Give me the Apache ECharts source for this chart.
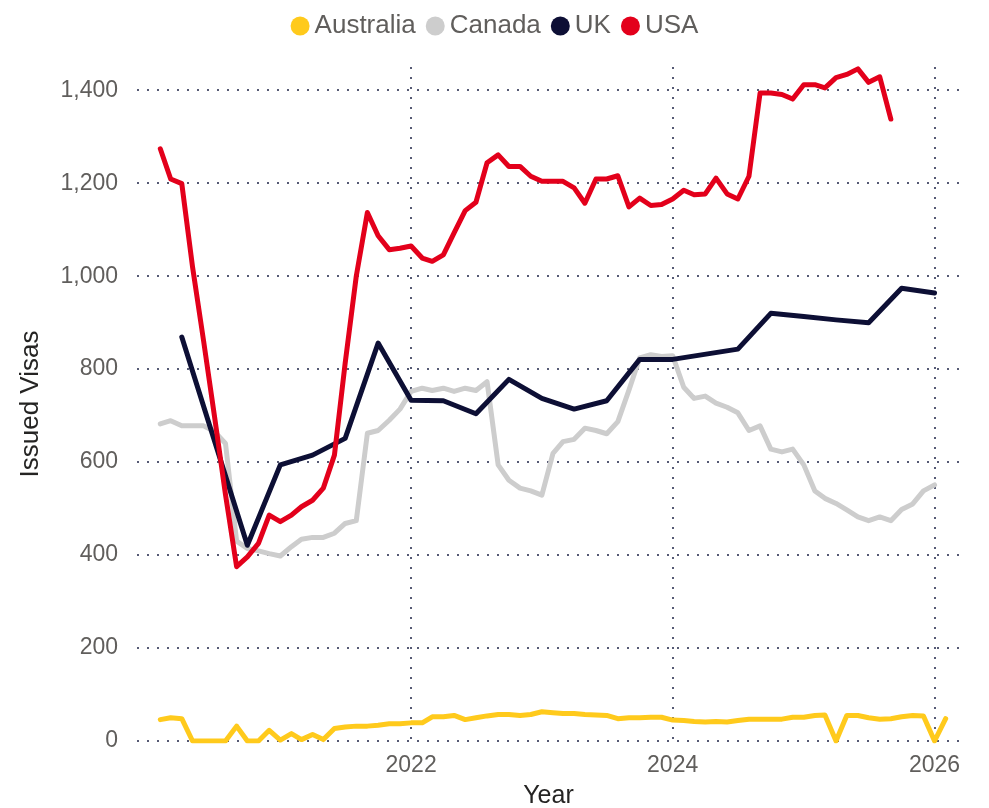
<!DOCTYPE html>
<html>
<head>
<meta charset="utf-8">
<script src="https://cdn.jsdelivr.net/npm/echarts@6/dist/echarts.min.js"></script>
<style>
  html, body { margin: 0; padding: 0; background: #fff; }
  #chart1 { width: 989px; height: 808px; }
</style>
</head>
<body>
<div id="chart1"></div>
<script>
// monthly series: Feb 2020 onwards
var seriesNames = ['Australia', 'Canada', 'UK', 'USA'];
var colors = ['#FFCA1C', '#CDCDCD', '#0D0F35', '#E3001B'];

var australia = [
    46, 50, 48, 0, 0, 0, 0, 32, 0, 0, 23,
    2, 16, 3, 14, 3, 27, 30, 32, 32, 34, 37, 37,
    39, 39, 52, 52, 55, 46, 50, 54, 57, 57, 55, 57,
    63, 61, 59, 59, 57, 56, 55, 48, 50, 50, 51, 51,
    45, 44, 42, 41, 42, 41, 44, 47, 47, 47, 47, 51,
    51, 55, 56, 0, 55, 55, 50, 47, 48, 52, 55, 54,
    0, 48
];
var canada = [
    682, 689, 678, 678, 678, 666, 640, 430, 414, 409, 403,
    398, 418, 434, 438, 438, 447, 468, 474, 662, 668, 690, 714,
    752, 759, 754, 759, 752, 759, 754, 773, 594, 561, 544, 538,
    529, 619, 644, 649, 673, 668, 661, 687, 755, 824, 831, 827,
    829, 761, 737, 742, 727, 718, 706, 668, 678, 628, 622, 628,
    594, 538, 522, 511, 497, 482, 474, 482, 474, 498, 510, 538,
    551
];
var usa = [
    1274, 1209, 1199, 1020, 860, 700, 530, 375, 396, 425, 486,
    472, 486, 504, 518, 544, 615, 813, 1000, 1137, 1087, 1057, 1060,
    1065, 1039, 1032, 1046, 1093, 1141, 1159, 1244, 1261, 1236, 1236, 1215,
    1204, 1204, 1204, 1190, 1157, 1209, 1209, 1216, 1149, 1168, 1152, 1154,
    1166, 1185, 1175, 1177, 1211, 1177, 1166, 1215, 1394, 1394, 1391, 1381,
    1412, 1412, 1405, 1427, 1434, 1446, 1417, 1429, 1338
];
// UK is reported quarterly
var ukDates = [
    '2020-04-01', '2020-10-01', '2021-01-01', '2021-04-01', '2021-07-01', '2021-10-01',
    '2022-01-01', '2022-04-01', '2022-07-01', '2022-10-01',
    '2023-01-01', '2023-04-01', '2023-07-01', '2023-10-01',
    '2024-01-01', '2024-07-01', '2024-10-01',
    '2025-01-01', '2025-04-01', '2025-07-01', '2025-10-01', '2026-01-01'
];
var uk = [
    869, 421, 594, 615, 651, 856,
    733, 732, 704, 778,
    737, 714, 732, 821,
    821, 843, 920,
    913, 906, 900, 974, 964
];
var yTicks = [0, 200, 400, 600, 800, 1000, 1200, 1400];
var xTicks = ['2022-01-01', '2024-01-01', '2026-01-01'];

function monthList(year, month, n) {
    var out = [];
    for (var i = 0; i < n; i++) {
        var y = year + Math.floor((month - 1 + i) / 12);
        var m = (month - 1 + i) % 12 + 1;
        out.push(y + '-' + (m < 10 ? '0' + m : m) + '-01');
    }
    return out;
}
function pair(dates, vals) {
    return vals.map(function (v, i) { return [dates[i], v]; });
}

var monthly = monthList(2020, 2, 73);
var seriesData = [
    pair(monthly, australia),
    pair(monthly, canada),
    pair(ukDates, uk),
    pair(monthly, usa)
];

var font = 'Liberation Sans, Arial, sans-serif';
var gridDots = { color: '#565a74', width: 2, type: [2, 8] };

var myChart = echarts.init(document.getElementById('chart1'));
myChart.setOption({
    animation: false,
    color: colors,
    // 图例
    legend: {
        data: seriesNames,
        top: 8,
        left: 'center',
        icon: 'circle',
        itemWidth: 19,
        itemHeight: 19,
        itemGap: 10,
        textStyle: { fontFamily: font, fontSize: 26, color: '#605E5C' }
    },
    grid: { left: 137, right: 29, top: 67, bottom: 67, outerBoundsMode: 'none' },
    // x轴
    xAxis: {
        type: 'time',
        min: '2019-11-28',
        max: '2026-03-13',
        name: 'Year',
        nameLocation: 'middle',
        nameGap: 43,
        nameTextStyle: { fontFamily: font, fontSize: 25, color: '#252423' },
        axisLine: { show: false },
        axisTick: { show: false, customValues: xTicks },
        axisLabel: {
            customValues: xTicks,
            formatter: '{yyyy}',
            margin: 13,
            fontFamily: font, fontSize: 23, color: '#605E5C'
        },
        splitLine: { show: true, lineStyle: gridDots }
    },
    // y轴
    yAxis: {
        type: 'value',
        min: 0,
        max: 1450,
        name: 'Issued Visas',
        nameLocation: 'middle',
        nameGap: 93,
        nameTextStyle: { fontFamily: font, fontSize: 26, color: '#252423' },
        axisLine: { show: false },
        axisTick: { show: false, customValues: yTicks },
        axisLabel: {
            customValues: yTicks,
            margin: 19,
            formatter: function (v) { return v.toLocaleString('en-US'); },
            fontFamily: font, fontSize: 23, color: '#605E5C'
        },
        splitLine: { show: true, lineStyle: gridDots }
    },
    // 数据
    series: seriesNames.map(function (name, i) {
        return {
            name: name,
            type: 'line',
            data: seriesData[i],
            showSymbol: false,
            symbol: 'circle',
            lineStyle: { width: 5, color: colors[i], join: 'round', cap: 'round' },
            itemStyle: { color: colors[i] },
            z: i + 2
        };
    })
});
</script>
</body>
</html>
